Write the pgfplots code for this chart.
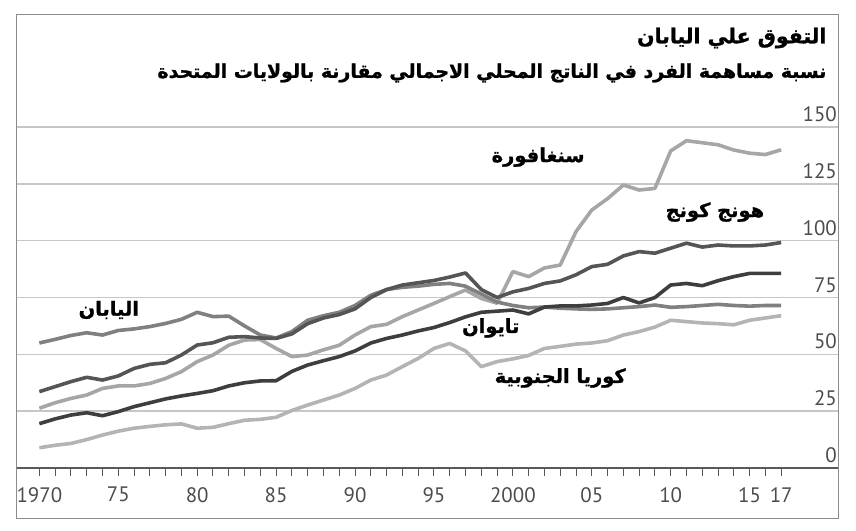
\documentclass[border=0pt]{standalone}
\usepackage{pgfplots}
\pgfplotsset{compat=1.18}
\usepackage{pgfplotstable}
\usepackage{fontspec}
\setmainfont{PT Sans}
\newfontfamily\arabicfont[Script=Arabic, BoldFeatures={FakeBold=1.2}]{DejaVu Sans}
\TeXXeTstate=1
\definecolor{cJapan}{HTML}{808080}
\definecolor{cHK}{HTML}{555555}
\definecolor{cSing}{HTML}{A6A6A6}
\definecolor{cTaiwan}{HTML}{3E3E3E}
\definecolor{cKorea}{HTML}{B4B4B4}

\pgfplotstableread{
year japan hk sing taiwan korea
1970 55.0 33.6 26.3 19.5 8.9
1971 56.6 35.8 28.7 21.6 10.0
1972 58.3 38.0 30.6 23.3 10.8
1973 59.5 39.9 32.1 24.3 12.5
1974 58.5 38.7 35.0 23.0 14.5
1975 60.5 40.5 36.1 24.8 16.2
1976 61.2 43.8 36.1 27.0 17.5
1977 62.2 45.6 37.2 28.7 18.3
1978 63.6 46.3 39.4 30.4 19.0
1979 65.4 49.7 42.4 31.7 19.4
1980 68.5 54.1 46.8 32.8 17.5
1981 66.6 55.1 49.7 34.0 17.9
1982 66.8 57.5 54.0 36.1 19.5
1983 62.5 57.8 56.3 37.5 21.0
1984 58.5 57.2 56.5 38.3 21.4
1985 57.2 57.0 52.6 38.4 22.3
1986 60.0 59.0 49.0 42.5 25.3
1987 65.0 63.5 49.7 45.3 27.7
1988 67.0 66.0 52.0 47.2 29.9
1989 68.5 67.5 54.0 49.0 32.1
1990 71.5 70.0 58.5 51.5 35.0
1991 76.0 75.0 62.2 55.0 38.7
1992 78.5 78.5 63.2 57.0 40.9
1993 79.5 80.5 66.6 58.5 44.6
1994 80.0 81.5 69.5 60.3 48.2
1995 80.8 82.5 72.4 61.8 52.6
1996 81.2 84.0 75.4 64.0 54.8
1997 80.0 85.8 78.3 66.5 51.5
1998 76.5 78.5 74.6 68.5 44.6
1999 73.0 75.0 72.5 69.0 46.8
2000 71.5 77.5 86.4 69.5 48.0
2001 70.5 79.0 84.2 67.8 49.5
2002 70.8 81.2 88.0 70.8 52.6
2003 70.3 82.3 89.3 71.3 53.5
2004 70.0 85.0 104.0 71.3 54.5
2005 69.8 88.6 113.5 71.7 55.0
2006 70.0 89.6 118.5 72.4 56.0
2007 70.5 93.3 124.5 75.0 58.5
2008 71.0 95.2 122.3 72.6 60.0
2009 71.7 94.5 123.0 75.0 62.0
2010 70.7 96.7 139.5 80.5 65.0
2011 71.0 98.9 144.0 81.2 64.4
2012 71.5 97.2 143.1 80.2 63.8
2013 72.0 98.1 142.2 82.4 63.5
2014 71.5 97.7 139.9 84.2 63.0
2015 71.2 97.7 138.5 85.6 65.0
2016 71.5 98.1 137.9 85.6 66.0
2017 71.5 99.2 140.0 85.6 67.0
}\gdpdata

\begin{document}
\begin{tikzpicture}
\useasboundingbox (-16bp,-13bp) rectangle (840bp,518bp);
\begin{axis}[
  scale only axis, width=822bp, height=503bp,
  at={(0,0)}, anchor=south west,
  xmin=1968.52, xmax=2020.6, ymin=-22, ymax=199.3,
  axis x line=middle, axis y line=right,
  x axis line style={-, color=black!65, line width=1.3bp},
  y axis line style={draw=none},
  xtick={1970,1975,1980,1985,1990,1995,2000,2005,2010,2015,2017},
  xticklabels={1970,75,80,85,90,95,2000,05,10,15,17},
  minor xtick={1970,1971,...,2017},
  ytick={0,25,50,75,100,125,150},
  yticklabels={0,25,50,75,100,125,150},
  tick align=outside,
  major tick length=8bp, minor tick length=8bp,
  xtick style={color=black!65, line width=1bp},
  xminorticks=true,
  ytick style={draw=none},
  ymajorgrids,
  grid style={color=black!22, line width=1.5bp},
  ticklabel style={font=\fontsize{21}{21}\selectfont, text=black!70, inner sep=0pt},
  xticklabel style={anchor=north, yshift=-11bp},
  yticklabel style={anchor=south east, xshift=-9bp, yshift=5bp},
  every axis plot/.append style={line width=3.6bp, line join=round, no markers},
  clip=false,
]
\draw[color=black!45, line width=1bp] (rel axis cs:0,0) rectangle (rel axis cs:1,1);
\addplot[color=cKorea] table[x=year, y=korea] {\gdpdata};
\addplot[color=cSing] table[x=year, y=sing] {\gdpdata};
\addplot[color=cJapan] table[x=year, y=japan] {\gdpdata};
\addplot[color=cTaiwan] table[x=year, y=taiwan] {\gdpdata};
\addplot[color=cHK] table[x=year, y=hk] {\gdpdata};
\node[font=\arabicfont\bfseries\fontsize{19.5}{20}\selectfont] at (axis cs:2001.6,136.8) {\beginR سنغافورة\endR};
\node[font=\arabicfont\bfseries\fontsize{19.5}{20}\selectfont] at (axis cs:2012.8,112.6) {\beginR هونج كونج\endR};
\node[font=\arabicfont\bfseries\fontsize{19.5}{20}\selectfont] at (axis cs:1974.4,69.5) {\beginR اليابان\endR};
\node[font=\arabicfont\bfseries\fontsize{19.5}{20}\selectfont] at (axis cs:1998.6,61.6) {\beginR تايوان\endR};
\node[font=\arabicfont\bfseries\fontsize{19.5}{20}\selectfont] at (axis cs:2003,39.6) {\beginR كوريا الجنوبية\endR};
\end{axis}
\node[anchor=east, font=\arabicfont\bfseries\fontsize{20.5}{22}\selectfont] at (814bp,480bp) {\beginR التفوق علي اليابان\endR};
\node[anchor=east, font=\arabicfont\bfseries\fontsize{19}{22}\selectfont] at (814bp,445bp) {\beginR نسبة مساهمة الفرد في الناتج المحلي الاجمالي مقارنة بالولايات المتحدة\endR};
\end{tikzpicture}
\end{document}
